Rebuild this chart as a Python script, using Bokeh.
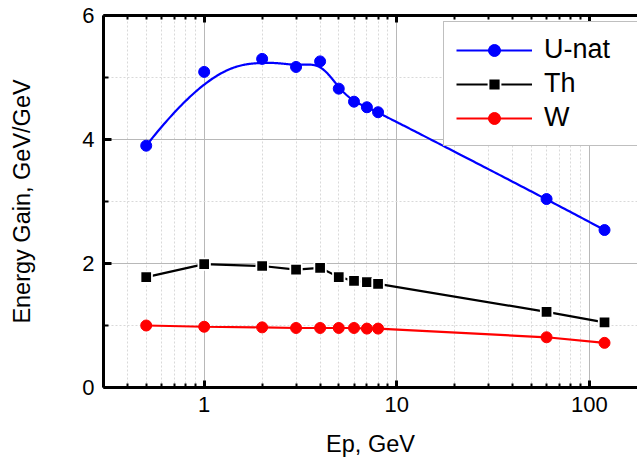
import numpy as np
from bokeh.plotting import figure
from bokeh.models import Range1d, FixedTicker, LogAxis, Legend, LegendItem, BasicTickFormatter
from bokeh.embed import file_html
from bokeh.resources import INLINE

# ---- data ----
ep = [0.5, 1, 2, 3, 4, 5, 6, 7, 8, 60, 120]
u_nat = [3.90, 5.09, 5.30, 5.17, 5.26, 4.82, 4.61, 4.52, 4.44, 3.04, 2.54]
th = [1.78, 1.99, 1.96, 1.90, 1.93, 1.78, 1.72, 1.70, 1.67, 1.22, 1.05]
w = [1.00, 0.98, 0.97, 0.96, 0.96, 0.96, 0.96, 0.95, 0.95, 0.81, 0.72]
series_names = ["U-nat", "Th", "W"]
x_ticks = [1, 10, 100]
x_tick_labels = ["1", "10", "100"]
x_minor = [0.3, 0.4, 0.5, 0.6, 0.7, 0.8, 0.9, 2, 3, 4, 5, 6, 7, 8, 9,
           20, 30, 40, 50, 60, 70, 80, 90]
y_ticks = [0, 2, 4, 6]
y_minor = [1, 3, 5]
x_title = "Ep, GeV"
y_title = "Energy Gain, GeV/GeV"

FONT = "Liberation Sans"


def clamped_bspline(xs, ys, n=600):
    """Cubic B-spline using the data points as control points (clamped ends)."""
    P = np.column_stack([xs, ys]).astype(float)
    m = len(P)
    k = 3
    knots = np.concatenate([[0.0] * k, np.arange(m - k + 1, dtype=float), [float(m - k)] * k])
    t = np.linspace(0, m - k, n, endpoint=False)

    def basis(i, d):
        if d == 0:
            return ((knots[i] <= t) & (t < knots[i + 1])).astype(float)
        out = np.zeros_like(t)
        d1 = knots[i + d] - knots[i]
        d2 = knots[i + d + 1] - knots[i + 1]
        if d1 > 0:
            out += (t - knots[i]) / d1 * basis(i, d - 1)
        if d2 > 0:
            out += (knots[i + d + 1] - t) / d2 * basis(i + 1, d - 1)
        return out

    curve = np.zeros((n, 2))
    for i in range(m):
        b = basis(i, k)
        curve += b[:, None] * P[i]
    curve = np.vstack([curve, P[-1]])
    return curve[:, 0], curve[:, 1]


cx, cy = clamped_bspline(np.log10(ep), u_nat)
cx = 10 ** cx

p = figure(width=637, height=460, x_axis_type="log",
           x_range=Range1d(0.3, 178), y_range=Range1d(0, 6),
           output_backend="svg", toolbar_location=None,
           min_border_left=103, min_border_right=0,
           min_border_top=15, min_border_bottom=73)
p.background_fill_color = "white"
p.border_fill_color = "white"
p.outline_line_color = None

# grids
p.xgrid.ticker = FixedTicker(ticks=x_ticks, minor_ticks=x_minor)
p.ygrid.ticker = FixedTicker(ticks=y_ticks, minor_ticks=y_minor)
for g in (p.xgrid, p.ygrid):
    g.grid_line_color = "#b8b8b8"
    g.grid_line_width = 1
    g.minor_grid_line_color = "#d9d9d9"
    g.minor_grid_line_dash = "2 2"
    g.minor_grid_line_width = 1

# axes
xa = p.xaxis[0]
xa.ticker = FixedTicker(ticks=x_ticks, minor_ticks=x_minor)
xa.formatter = BasicTickFormatter()
xa.major_label_overrides = dict(zip(x_ticks, x_tick_labels))
ya = p.yaxis[0]
ya.ticker = FixedTicker(ticks=y_ticks, minor_ticks=y_minor)
for ax in (xa, ya):
    ax.axis_line_width = 3
    ax.axis_line_color = "black"
    ax.major_tick_line_width = 3
    ax.minor_tick_line_width = 2
    ax.major_tick_out = 0
    ax.minor_tick_out = 0
    ax.major_label_text_font = FONT
    ax.major_label_text_font_size = "22px"
    ax.major_label_text_color = "black"
    ax.axis_label_text_font = FONT
    ax.axis_label_text_font_size = "23.5px"
    ax.axis_label_text_font_style = "normal"
    ax.axis_label_text_color = "black"
xa.major_tick_in = 7
xa.minor_tick_in = 4
ya.major_tick_in = 8
ya.minor_tick_in = 5
xa.axis_label = x_title
ya.axis_label = y_title
xa.major_label_standoff = 9
ya.major_label_standoff = 9
xa.axis_label_standoff = 16
ya.axis_label_standoff = 44

top = LogAxis(ticker=FixedTicker(ticks=x_ticks, minor_ticks=x_minor))
top.axis_line_width = 3
top.major_tick_line_width = 3
top.minor_tick_line_width = 2
top.major_tick_out = 0
top.minor_tick_out = 0
top.major_tick_in = 7
top.minor_tick_in = 4
top.major_label_text_font_size = "1px"
top.major_label_text_alpha = 0
top.major_label_standoff = 0
p.add_layout(top, "above")

# series
l1 = p.line(cx, cy, line_color="#0000ff", line_width=2.2)
s1 = p.scatter(ep, u_nat, marker="circle", size=11, fill_color="#0000ff", line_color="#0000ff")
l2 = p.line(ep, th, line_color="black", line_width=2.2)
s2 = p.scatter(ep, th, marker="square", size=11.5, fill_color="black",
               line_color="white", line_width=1.8)
l3 = p.line(ep, w, line_color="#ff0000", line_width=2.2)
s3 = p.scatter(ep, w, marker="circle", size=11, fill_color="#ff0000", line_color="#ff0000")

legend = Legend(items=[LegendItem(label=series_names[0], renderers=[l1, s1]),
                       LegendItem(label=series_names[1], renderers=[l2, s2]),
                       LegendItem(label=series_names[2], renderers=[l3, s3])],
                location=(340, 241))
legend.margin = 0
legend.padding = 12
legend.spacing = 3
legend.label_height = 30
legend.glyph_height = 30
legend.glyph_width = 76
legend.label_standoff = 12
legend.label_width = 100
legend.label_text_font = FONT
legend.label_text_font_size = "27px"
legend.label_text_color = "black"
legend.border_line_color = "#808080"
legend.border_line_width = 1.5
legend.background_fill_color = "white"
legend.background_fill_alpha = 1.0
p.add_layout(legend, "center")

open("out.html", "w").write(file_html(p, INLINE))
